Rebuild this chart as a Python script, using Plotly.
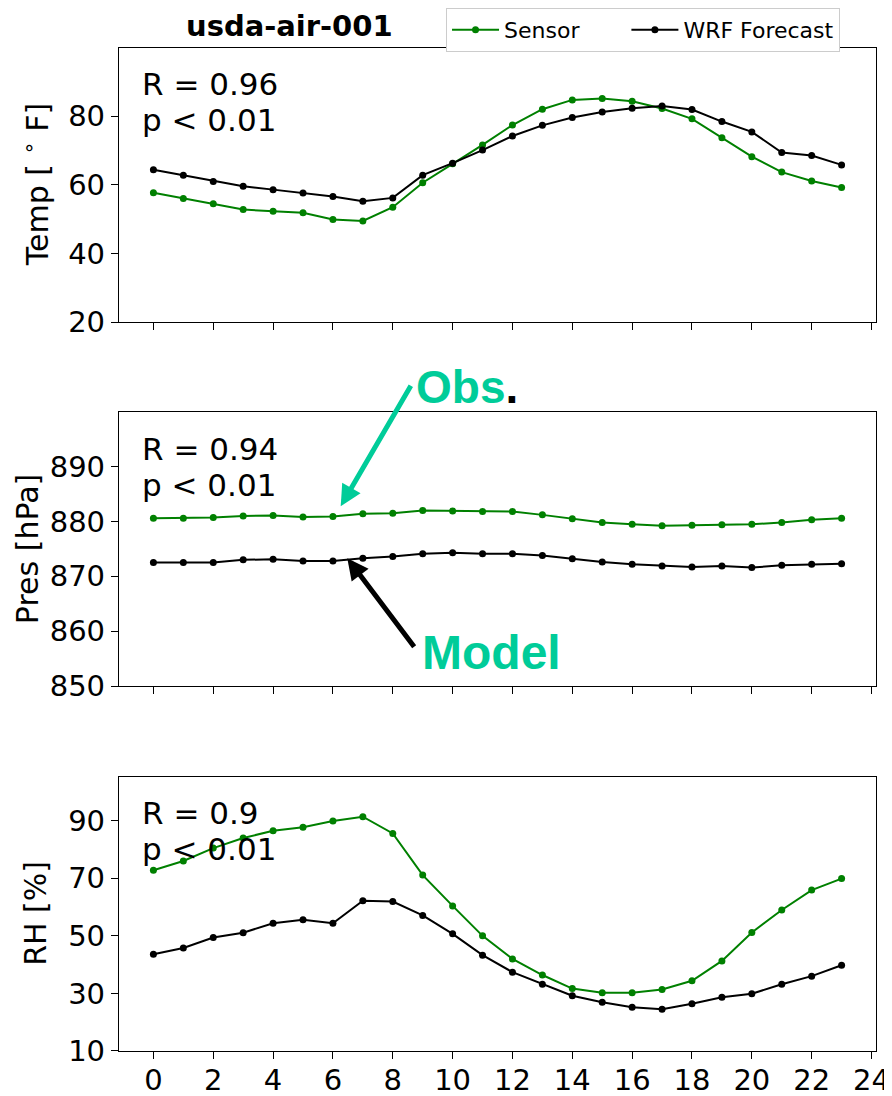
import plotly.graph_objects as go

hours = list(range(24))
temp_sensor = [57.7, 56.0, 54.5, 52.8, 52.3, 51.9, 49.9, 49.5, 53.5, 60.6, 66.1, 71.6,
               77.4, 82.0, 84.7, 85.1, 84.3, 82.2, 79.2, 73.7, 68.2, 63.7, 61.1, 59.2]
temp_wrf = [64.4, 62.8, 61.0, 59.6, 58.6, 57.6, 56.6, 55.2, 56.2, 62.8, 66.3, 70.1,
            74.2, 77.3, 79.6, 81.2, 82.3, 82.9, 81.9, 78.4, 75.4, 69.4, 68.5, 65.8]
pres_sensor = [880.6, 880.6, 880.7, 881.0, 881.1, 880.8, 880.9, 881.4, 881.5, 882.0, 881.9, 881.8,
               881.8, 881.2, 880.5, 879.8, 879.5, 879.2, 879.3, 879.4, 879.5, 879.8, 880.3, 880.6]
pres_wrf = [872.5, 872.5, 872.5, 873.0, 873.1, 872.8, 872.8, 873.3, 873.6, 874.1, 874.3, 874.1,
            874.1, 873.8, 873.2, 872.6, 872.2, 871.9, 871.7, 871.9, 871.6, 872.0, 872.2, 872.3]
rh_sensor = [72.8, 76.0, 80.5, 84.0, 86.5, 87.7, 89.9, 91.4, 85.6, 71.1, 60.4, 50.0,
             42.0, 36.4, 31.7, 30.2, 30.2, 31.4, 34.4, 41.3, 51.2, 59.0, 65.9, 69.9]
rh_wrf = [43.6, 45.8, 49.4, 51.1, 54.4, 55.6, 54.4, 62.2, 61.9, 57.1, 50.7, 43.3,
          37.4, 33.2, 29.2, 26.9, 25.2, 24.5, 26.4, 28.7, 29.9, 33.2, 36.0, 39.8]

series_names = ["Sensor", "WRF Forecast"]
stats_r = ["R = 0.96", "R = 0.94", "R = 0.9"]
stats_p = ["p &lt; 0.01", "p &lt; 0.01", "p &lt; 0.01"]
y_titles = ["Temp [ <sup>∘</sup> F]", "Pres [hPa]", "RH [%]"]
y_ranges = [[20, 99.8], [850, 899.9], [10, 105.3]]
y_ticks = [[20, 40, 60, 80], [850, 860, 870, 880, 890], [10, 30, 50, 70, 90]]
x_ticks = list(range(0, 25, 2))

FONT = "DejaVu Sans"
GREEN = "#008000"
TEAL = "#00cc99"

fig = go.Figure()
series = [(temp_sensor, temp_wrf), (pres_sensor, pres_wrf), (rh_sensor, rh_wrf)]
for i, (s, w) in enumerate(series):
    xa = "x" if i == 0 else f"x{i+1}"
    ya = "y" if i == 0 else f"y{i+1}"
    fig.add_trace(go.Scatter(x=hours, y=s, mode="lines+markers",
                             name=series_names[0] + "\u00a0" * 6,
                             line=dict(color=GREEN, width=2), marker=dict(color=GREEN, size=7),
                             showlegend=(i == 0), xaxis=xa, yaxis=ya))
    fig.add_trace(go.Scatter(x=hours, y=w, mode="lines+markers", name=series_names[1],
                             line=dict(color="black", width=2), marker=dict(color="black", size=7),
                             showlegend=(i == 0), xaxis=xa, yaxis=ya))

domains = [[0.7265, 1.0], [0.3639, 0.6368], [0.0, 0.2735]]
axis_common = dict(showline=True, linecolor="black", linewidth=1.3, mirror=True,
                   ticks="outside", ticklen=7, tickwidth=1.3, tickcolor="black",
                   showgrid=False, zeroline=False,
                   tickfont=dict(family=FONT, size=29, color="black"))
layout = dict()
for i in range(3):
    xk = "xaxis" if i == 0 else f"xaxis{i+1}"
    yk = "yaxis" if i == 0 else f"yaxis{i+1}"
    ya = "y" if i == 0 else f"y{i+1}"
    xa = "x" if i == 0 else f"x{i+1}"
    layout[xk] = dict(axis_common, range=[-1.15, 24.15], tickvals=x_ticks,
                      showticklabels=(i == 2), anchor=ya, ticklabelstandoff=-4)
    layout[yk] = dict(axis_common, range=y_ranges[i], tickvals=y_ticks[i], domain=domains[i],
                      anchor=xa)
fig.update_layout(**layout)

annotations = []
title_x = [-0.1096, -0.1215, -0.1096]
for i in range(3):
    xa = "x" if i == 0 else f"x{i+1}"
    ya = "y" if i == 0 else f"y{i+1}"
    annotations.append(dict(text=stats_r[i], xref=f"{xa} domain", yref=f"{ya} domain",
                            x=0.028, y=0.867, xanchor="left", yanchor="middle", showarrow=False,
                            font=dict(family=FONT, size=31, color="black")))
    annotations.append(dict(text=stats_p[i], xref=f"{xa} domain", yref=f"{ya} domain",
                            x=0.028, y=0.736, xanchor="left", yanchor="middle", showarrow=False,
                            font=dict(family=FONT, size=31, color="black")))
    # y-axis titles
    annotations.append(dict(text=y_titles[i], xref="paper", yref=f"{ya} domain",
                            x=title_x[i], y=0.5, xanchor="center", yanchor="middle",
                            textangle=-90, showarrow=False,
                            font=dict(family=FONT, size=30, color="black")))

# title
annotations.append(dict(text="<b>usda-air-001</b>", xref="paper", yref="paper",
                        x=0.2247, y=1.0219, xanchor="center", yanchor="middle", showarrow=False,
                        font=dict(family=FONT, size=29, color="black")))
# Obs./Model labels
annotations.append(dict(text=f"<b><span style='color:{TEAL}'>Obs</span>.</b>", xref="paper", yref="paper",
                        x=0.4599, y=0.662, xanchor="center", yanchor="middle", showarrow=False,
                        font=dict(family="Liberation Sans", size=46, color="black")))
annotations.append(dict(text="<b>Model</b>", xref="paper", yref="paper",
                        x=0.4915, y=0.3974, xanchor="center", yanchor="middle", showarrow=False,
                        font=dict(family="Liberation Sans", size=48, color=TEAL)))
# arrows
annotations.append(dict(text="", xref="x2", yref="y2", x=6.26, y=882.75, ax=71, ay=-122,
                        showarrow=True, arrowhead=2, arrowsize=0.85, arrowwidth=5, arrowcolor=TEAL))
annotations.append(dict(text="", xref="x2", yref="y2", x=6.48, y=873.3, ax=68, ay=90,
                        showarrow=True, arrowhead=2, arrowsize=0.85, arrowwidth=5, arrowcolor="black"))

# page body has an 8px margin: figure is 8px smaller so it fits the window
fig.update_layout(
    width=884, height=1088,
    margin=dict(l=111, r=16, t=40, b=45, autoexpand=False),
    paper_bgcolor="white", plot_bgcolor="white",
    font=dict(family=FONT, color="black"),
    annotations=annotations,
    legend=dict(orientation="h", x=0.432, y=1.0399, xanchor="left", yanchor="top",
                itemwidth=47,
                bordercolor="#cccccc", borderwidth=1, bgcolor="white",
                font=dict(family=FONT, size=22, color="black")),
)

fig.write_html("out.html")
